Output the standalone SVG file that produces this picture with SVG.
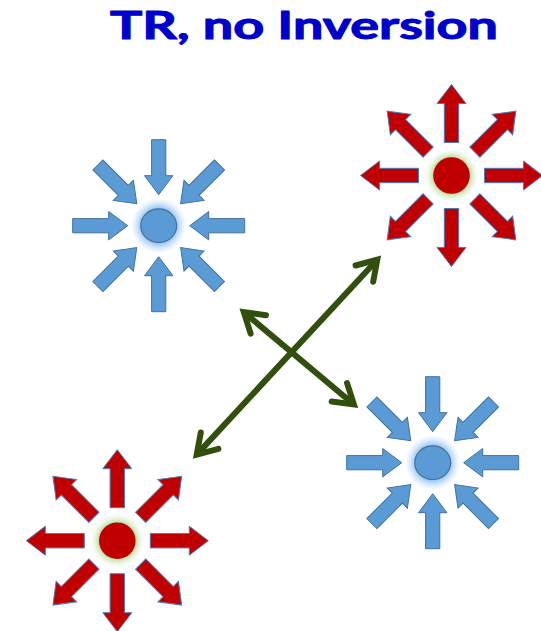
<svg xmlns="http://www.w3.org/2000/svg" xmlns:xlink="http://www.w3.org/1999/xlink" width="541" height="631" viewBox="0 0 541 631">
<style>
.title{font-family:Lato,"Open Sans","Liberation Sans",sans-serif;font-weight:bold;font-size:38px;fill:#0000CC;stroke:#0000CC;stroke-width:1;stroke-linejoin:round}
.ra{fill:#C00000;stroke:#4A7EBB;stroke-width:1}
.ba{fill:#5B9BD5;stroke:#41719C;stroke-width:1}
.rc{fill:#C00000}
.bc{fill:#5B9BD5;stroke:#41719C;stroke-width:1.2}
.conn{stroke:#324F0E;stroke-width:6;fill:none}
</style>
<defs>
<path id="ra" d="M33,-7.2 L72,-7.2 L72,-14.5 L91,0 L72,14.5 L72,7.2 L33,7.2 Z"/>
<path id="ba" d="M86,-7.1 L50,-7.1 L50,-14.2 L31,0 L50,14.2 L50,7.1 L86,7.1 Z"/>
<radialGradient id="bg">
<stop offset="0" stop-color="#8FC0F0" stop-opacity="1"/>
<stop offset="0.6" stop-color="#8FC0F0" stop-opacity="1"/>
<stop offset="1" stop-color="#C9E0F7" stop-opacity="0"/>
</radialGradient>
<radialGradient id="gg">
<stop offset="0" stop-color="#A9D58A" stop-opacity="1"/>
<stop offset="0.62" stop-color="#A9D58A" stop-opacity="1"/>
<stop offset="1" stop-color="#E6F3DA" stop-opacity="0"/>
</radialGradient>
<marker id="vh" markerUnits="userSpaceOnUse" viewBox="-30 -20 40 40" refX="0" refY="0" markerWidth="40" markerHeight="40" orient="auto-start-reverse">
<path d="M-19,-12 L0,0 L-19,12" fill="none" stroke="#324F0E" stroke-width="6" stroke-linecap="round" stroke-linejoin="miter"/>
</marker>
</defs>
<text class="title" x="110" y="38.5" textLength="388" lengthAdjust="spacingAndGlyphs">TR, no Inversion</text>

<g id="blue-top-left" transform="translate(158.7,225.7)">
<circle r="28" fill="url(#bg)"/>
<use xlink:href="#ba" class="ba" transform="rotate(0)"/>
<use xlink:href="#ba" class="ba" transform="rotate(45)"/>
<use xlink:href="#ba" class="ba" transform="rotate(90)"/>
<use xlink:href="#ba" class="ba" transform="rotate(135)"/>
<use xlink:href="#ba" class="ba" transform="rotate(180)"/>
<use xlink:href="#ba" class="ba" transform="rotate(225)"/>
<use xlink:href="#ba" class="ba" transform="rotate(270)"/>
<use xlink:href="#ba" class="ba" transform="rotate(315)"/>
<ellipse class="bc" rx="18" ry="16.8"/>
</g>

<g id="red-top-right" transform="translate(451.5,175.5)">
<circle r="27" fill="url(#gg)"/>
<use xlink:href="#ra" class="ra" transform="rotate(0)"/>
<use xlink:href="#ra" class="ra" transform="rotate(45)"/>
<use xlink:href="#ra" class="ra" transform="rotate(90)"/>
<use xlink:href="#ra" class="ra" transform="rotate(135)"/>
<use xlink:href="#ra" class="ra" transform="rotate(180)"/>
<use xlink:href="#ra" class="ra" transform="rotate(225)"/>
<use xlink:href="#ra" class="ra" transform="rotate(270)"/>
<use xlink:href="#ra" class="ra" transform="rotate(315)"/>
<circle class="rc" r="18.3"/>
</g>

<g id="blue-bottom-right" transform="translate(432.7,462.7)">
<circle r="28" fill="url(#bg)"/>
<use xlink:href="#ba" class="ba" transform="rotate(0)"/>
<use xlink:href="#ba" class="ba" transform="rotate(45)"/>
<use xlink:href="#ba" class="ba" transform="rotate(90)"/>
<use xlink:href="#ba" class="ba" transform="rotate(135)"/>
<use xlink:href="#ba" class="ba" transform="rotate(180)"/>
<use xlink:href="#ba" class="ba" transform="rotate(225)"/>
<use xlink:href="#ba" class="ba" transform="rotate(270)"/>
<use xlink:href="#ba" class="ba" transform="rotate(315)"/>
<ellipse class="bc" rx="18" ry="16.8"/>
</g>

<g id="red-bottom-left" transform="translate(117.3,540.7)">
<circle r="27" fill="url(#gg)"/>
<use xlink:href="#ra" class="ra" transform="rotate(0)"/>
<use xlink:href="#ra" class="ra" transform="rotate(45)"/>
<use xlink:href="#ra" class="ra" transform="rotate(90)"/>
<use xlink:href="#ra" class="ra" transform="rotate(135)"/>
<use xlink:href="#ra" class="ra" transform="rotate(180)"/>
<use xlink:href="#ra" class="ra" transform="rotate(225)"/>
<use xlink:href="#ra" class="ra" transform="rotate(270)"/>
<use xlink:href="#ra" class="ra" transform="rotate(315)"/>
<circle class="rc" r="18.3"/>
</g>

<g id="connectors">
<line class="conn" x1="196.7" y1="454.6" x2="377.3" y2="259.7" marker-start="url(#vh)" marker-end="url(#vh)"/>
<line class="conn" x1="243.8" y1="312.2" x2="353.9" y2="404.5" marker-start="url(#vh)" marker-end="url(#vh)"/>
</g>
</svg>
